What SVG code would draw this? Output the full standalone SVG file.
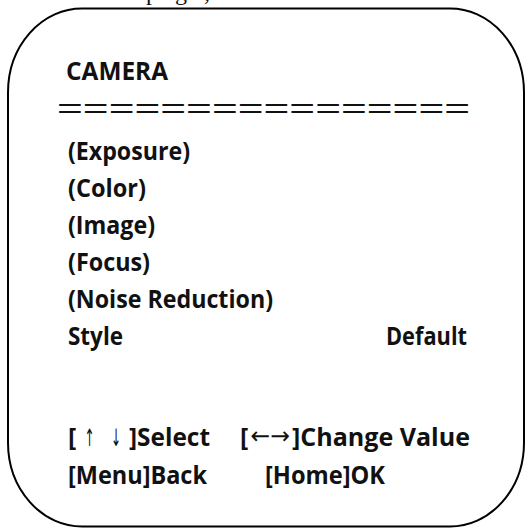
<svg xmlns="http://www.w3.org/2000/svg" width="525" height="528" viewBox="0 0 525 528">
  <style>
    .t { font-family: "Open Sans", "Liberation Sans", sans-serif; font-weight: 700; font-size: 25px; fill: #111; }
    .ar { font-family: "DejaVu Sans", sans-serif; font-weight: 400; font-size: 24px; fill: #111; }
    .eq { font-family: "Liberation Sans", sans-serif; font-weight: 400; font-size: 28px; fill: #111; }
    .frag { font-family: "Liberation Serif", serif; font-size: 24px; fill: #111; }
  </style>
  <rect width="525" height="528" fill="#fff"/>
  <text class="frag" x="146" y="0" textLength="64" lengthAdjust="spacing">page,</text>
  <g id="screen">
    <rect x="8" y="8.5" width="516" height="518" rx="74" ry="84" fill="none" stroke="#000" stroke-width="2"/>
  </g>
  <g id="title">
    <text class="t" x="66" y="80" textLength="102" lengthAdjust="spacingAndGlyphs">CAMERA</text>
    <text class="eq" x="57" y="118" textLength="413" lengthAdjust="spacingAndGlyphs">================</text>
  </g>
  <g id="items">
    <text class="t" x="68" y="160" textLength="122" lengthAdjust="spacingAndGlyphs">(Exposure)</text>
    <text class="t" x="68" y="197" textLength="78" lengthAdjust="spacingAndGlyphs">(Color)</text>
    <text class="t" x="68" y="234" textLength="87" lengthAdjust="spacingAndGlyphs">(Image)</text>
    <text class="t" x="68" y="271" textLength="82" lengthAdjust="spacingAndGlyphs">(Focus)</text>
    <text class="t" x="68" y="308" textLength="205" lengthAdjust="spacingAndGlyphs">(Noise Reduction)</text>
    <text class="t" x="68" y="345" textLength="55" lengthAdjust="spacingAndGlyphs">Style</text>
    <text class="t" x="386" y="345" textLength="81" lengthAdjust="spacingAndGlyphs">Default</text>
  </g>
  <g id="help">
    <text class="t" x="68" y="446">[</text>
    <text class="ar" transform="translate(89.5,446) scale(0.5,1)" text-anchor="middle">↑</text>
    <text class="ar" transform="translate(116,446) scale(0.5,1)" text-anchor="middle">↓</text>
    <text class="t" x="129" y="446" textLength="81" lengthAdjust="spacingAndGlyphs">]Select</text>
    <text class="t" x="240" y="446">[</text>
    <text class="ar" transform="translate(250.5,444) scale(0.98,1)">←→</text>
    <text class="t" x="292" y="446" textLength="178" lengthAdjust="spacingAndGlyphs">]Change Value</text>
    <text class="t" x="68" y="484" textLength="139" lengthAdjust="spacingAndGlyphs">[Menu]Back</text>
    <text class="t" x="265" y="484" textLength="120" lengthAdjust="spacingAndGlyphs">[Home]OK</text>
  </g>
</svg>
